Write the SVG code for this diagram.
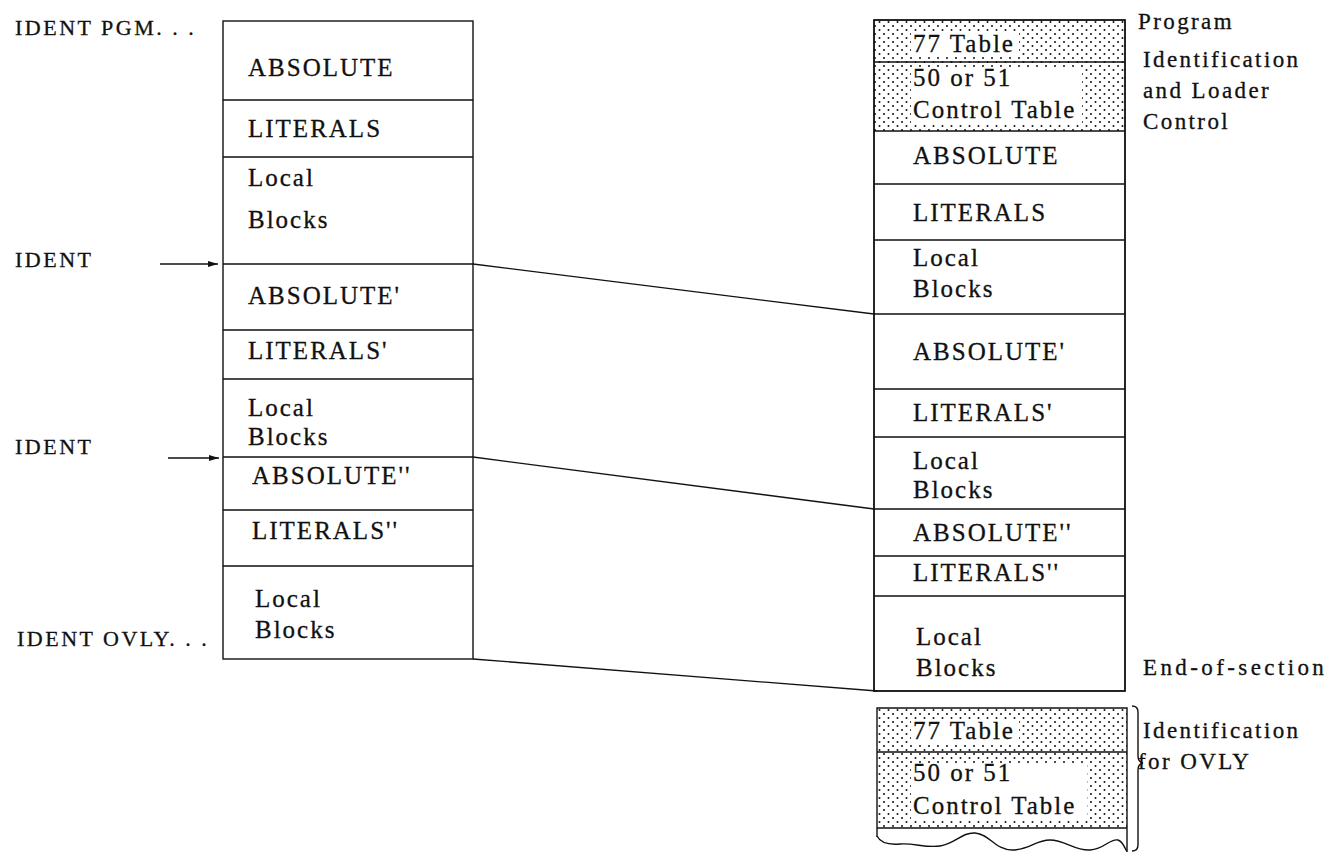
<svg xmlns="http://www.w3.org/2000/svg" width="1332" height="852" viewBox="0 0 1332 852">
  <style>
    .box { fill: #fff; stroke: #111; stroke-width: 1.4; }
    .div { stroke: #111; stroke-width: 1.4; fill: none; }
    .t { font-family: "Liberation Serif", "Times New Roman", serif; font-size: 25px; letter-spacing: 2px; fill: #111; stroke: #111; stroke-width: 0.3; }
    .lbl { font-family: "Liberation Serif", "Times New Roman", serif; font-size: 22px; letter-spacing: 2.5px; fill: #111; stroke: #111; stroke-width: 0.3; }
    .note { font-family: "Liberation Serif", "Times New Roman", serif; font-size: 23px; letter-spacing: 2.4px; fill: #111; stroke: #111; stroke-width: 0.3; }
    .conn { stroke: #111; stroke-width: 1.3; fill: none; }
    .hole { fill: #fff; }
  </style>
  <defs>
    <pattern id="dots" width="9" height="8" patternUnits="userSpaceOnUse">
      <circle cx="2" cy="2" r="1" fill="#111"/>
      <circle cx="6.5" cy="6" r="1" fill="#111"/>
    </pattern>
    <marker id="arrow" markerWidth="11" markerHeight="8" refX="10" refY="4" orient="auto" markerUnits="userSpaceOnUse">
      <path d="M0,1 L10,4 L0,7 Z" fill="#111"/>
    </marker>
  </defs>

  <rect width="1332" height="852" fill="#fff"/>

  <!-- source listing labels -->
  <g id="labels-left">
    <text class="lbl" x="15" y="35">IDENT PGM. . .</text>
    <text class="lbl" x="15" y="267">IDENT</text>
    <text class="lbl" x="15" y="454">IDENT</text>
    <text class="lbl" x="17" y="646">IDENT OVLY. . .</text>
  </g>

  <!-- left column: program as written -->
  <g id="source-column">
    <rect class="box" x="223" y="21" width="250" height="638"/>
    <path class="div" d="M223,100 H473 M223,157 H473 M223,264 H473 M223,330 H473 M223,379 H473 M223,457 H473 M223,510 H473 M223,566 H473"/>
    <g id="src-absolute"><text class="t" x="248" y="76">ABSOLUTE</text></g>
    <g id="src-literals"><text class="t" x="248" y="137">LITERALS</text></g>
    <g id="src-local"><text class="t" x="248" y="186">Local</text><text class="t" x="248" y="228">Blocks</text></g>
    <g id="src-absolute1"><text class="t" x="248" y="304">ABSOLUTE'</text></g>
    <g id="src-literals1"><text class="t" x="248" y="359">LITERALS'</text></g>
    <g id="src-local1"><text class="t" x="248" y="416">Local</text><text class="t" x="248" y="445">Blocks</text></g>
    <g id="src-absolute2"><text class="t" x="252" y="484">ABSOLUTE''</text></g>
    <g id="src-literals2"><text class="t" x="252" y="539">LITERALS''</text></g>
    <g id="src-local2"><text class="t" x="255" y="607">Local</text><text class="t" x="255" y="638">Blocks</text></g>
  </g>

  <!-- right column: loaded layout -->
  <g id="loaded-column">
    <rect class="box" x="874" y="20" width="251" height="671"/>
    <g id="hdr-77">
      <rect x="874" y="20" width="251" height="42" fill="url(#dots)"/>
      <rect class="hole" x="911" y="32" width="108" height="24"/>
      <text class="t" x="913" y="52">77 Table</text>
    </g>
    <g id="hdr-50">
      <rect x="874" y="62" width="251" height="69" fill="url(#dots)"/>
      <rect class="hole" x="911" y="68" width="171" height="56"/>
      <text class="t" x="913" y="86">50 or 51</text>
      <text class="t" x="913" y="118">Control Table</text>
    </g>
    <rect x="874" y="20" width="251" height="671" fill="none" stroke="#111" stroke-width="1.4"/>
    <path class="div" d="M874,62 H1125 M874,131 H1125 M874,184 H1125 M874,240 H1125 M874,314 H1125 M874,389 H1125 M874,437 H1125 M874,509 H1125 M874,556 H1125 M874,596 H1125"/>
    <g id="ld-absolute"><text class="t" x="913" y="164">ABSOLUTE</text></g>
    <g id="ld-literals"><text class="t" x="913" y="221">LITERALS</text></g>
    <g id="ld-local"><text class="t" x="913" y="266">Local</text><text class="t" x="913" y="297">Blocks</text></g>
    <g id="ld-absolute1"><text class="t" x="913" y="360">ABSOLUTE'</text></g>
    <g id="ld-literals1"><text class="t" x="913" y="421">LITERALS'</text></g>
    <g id="ld-local1"><text class="t" x="913" y="469">Local</text><text class="t" x="913" y="498">Blocks</text></g>
    <g id="ld-absolute2"><text class="t" x="913" y="541">ABSOLUTE''</text></g>
    <g id="ld-literals2"><text class="t" x="913" y="581">LITERALS''</text></g>
    <g id="ld-local2"><text class="t" x="916" y="645">Local</text><text class="t" x="916" y="676">Blocks</text></g>
  </g>

  <!-- overlay header section -->
  <g id="overlay-header">
    <rect x="877" y="708" width="250" height="44" fill="url(#dots)"/>
    <rect class="hole" x="911" y="719" width="108" height="24"/>
    <text class="t" x="913" y="739">77 Table</text>
    <rect x="877" y="752" width="250" height="76" fill="url(#dots)"/>
    <rect class="hole" x="911" y="763" width="176" height="57"/>
    <text class="t" x="913" y="781">50 or 51</text>
    <text class="t" x="913" y="814">Control Table</text>
    <path class="div" d="M877,837 V708 H1127 V852 M877,752 H1127 M877,828 H1127"/>
    <path class="div" d="M877,836 C880,842 888,845 900,844 C915,843 925,848 940,846 C955,844 962,832 975,833 C990,834 995,850 1012,850 C1030,850 1035,840 1050,840 C1065,840 1075,851 1090,850 C1105,849 1110,838 1118,840 C1124,842 1125,850 1127,851"/>
  </g>

  <!-- side notes -->
  <g id="notes-right">
    <text class="note" x="1138" y="29">Program</text>
    <text class="note" x="1143" y="67">Identification</text>
    <text class="note" x="1143" y="98">and Loader</text>
    <text class="note" x="1143" y="129">Control</text>
    <text class="note" x="1143" y="675" style="letter-spacing:3.4px">End-of-section</text>
    <text class="note" x="1143" y="738">Identification</text>
    <text class="note" x="1138" y="769">for OVLY</text>
    <path class="div" d="M1132,706 Q1138,706 1138,712 L1138,756 Q1138,762 1143,763 Q1138,764 1138,770 L1138,845 Q1138,851 1132,851" stroke-width="1.3"/>
  </g>

  <!-- connectors -->
  <g id="connectors">
    <line class="conn" x1="160" y1="264" x2="218" y2="264" marker-end="url(#arrow)"/>
    <line class="conn" x1="168" y1="458" x2="219" y2="458" marker-end="url(#arrow)"/>
    <line class="conn" x1="473" y1="264" x2="874" y2="314"/>
    <line class="conn" x1="473" y1="457" x2="874" y2="509"/>
    <line class="conn" x1="473" y1="659" x2="877" y2="691"/>
  </g>
</svg>
